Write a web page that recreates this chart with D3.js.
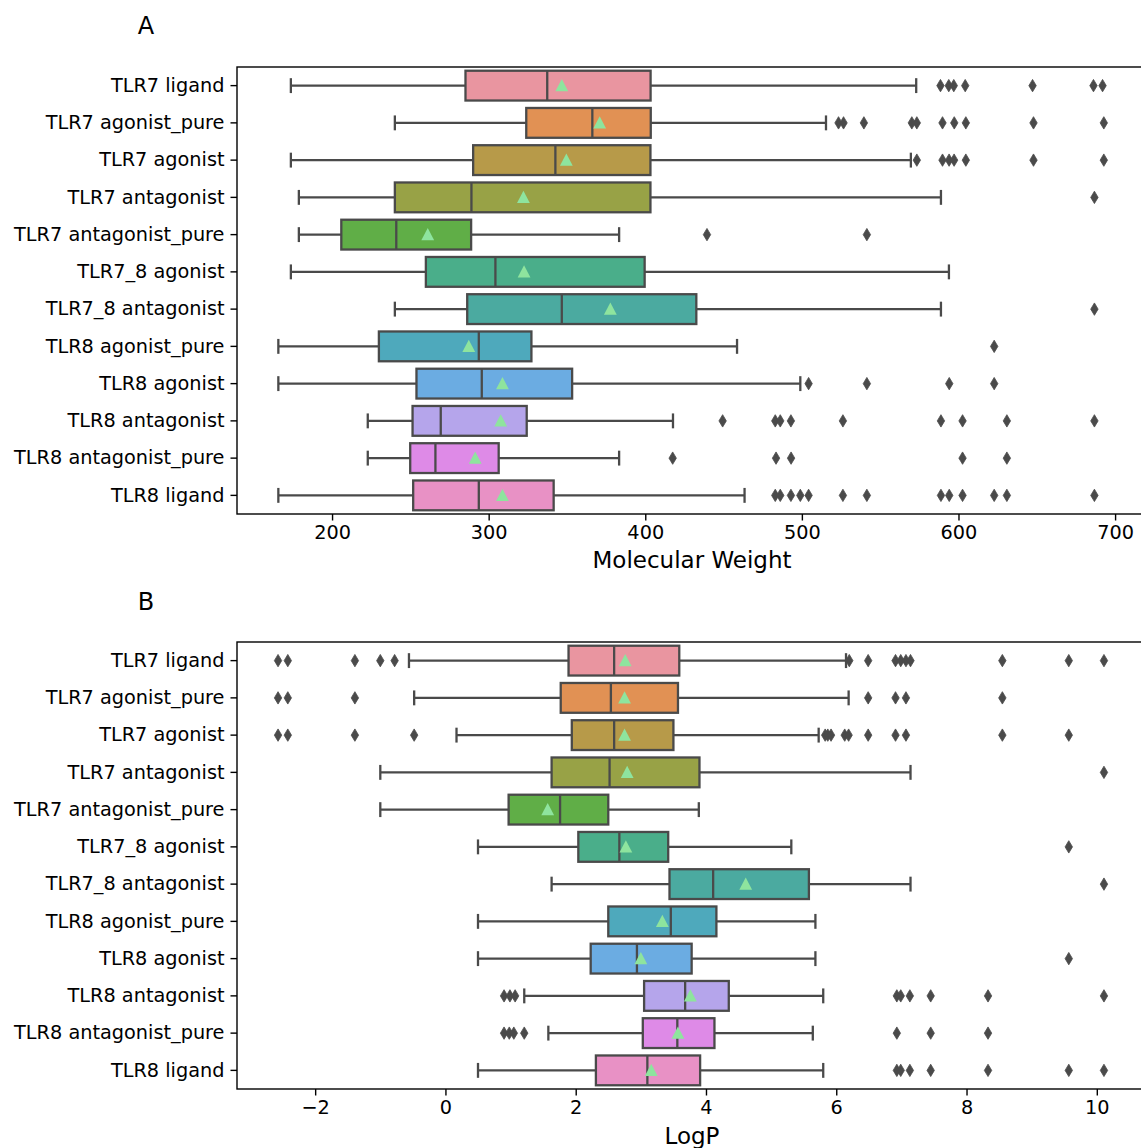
<!DOCTYPE html>
<html>
<head>
<meta charset="utf-8">
<script src="https://cdn.jsdelivr.net/npm/d3@7"></script>
<style>
  body { margin: 0; background: #fff; }
  svg text { font-family: "DejaVu Sans", sans-serif; fill: #000; }
</style>
</head>
<body>
<svg id="chart" width="1141" height="1148"></svg>
<script>
// Receptor ligand groups, top to bottom
const categories = [
  "TLR7 ligand", "TLR7 agonist_pure", "TLR7 agonist", "TLR7 antagonist",
  "TLR7 antagonist_pure", "TLR7_8 agonist", "TLR7_8 antagonist",
  "TLR8 agonist_pure", "TLR8 agonist", "TLR8 antagonist",
  "TLR8 antagonist_pure", "TLR8 ligand"
];

// Molecular weight summaries
const mwLow    = [173.7, 240.1, 173.7, 178.8, 178.8, 173.7, 240.1, 165.7, 165.7, 222.8, 222.8, 165.7];
const mwQ1     = [285.2, 324.0, 290.1, 240.1, 205.9, 259.9, 286.3, 229.9, 253.9, 251.4, 249.9, 251.8];
const mwMedian = [337.4, 366.2, 342.6, 289.0, 241.0, 304.3, 346.7, 293.7, 295.6, 269.4, 266.0, 293.7];
const mwQ3     = [403.4, 403.5, 403.3, 403.3, 288.8, 399.6, 432.6, 327.3, 353.3, 324.3, 306.4, 341.5];
const mwMean   = [346.7, 370.9, 349.6, 322.2, 261.1, 322.6, 377.7, 287.3, 308.8, 307.7, 291.4, 308.8];
const mwHigh   = [573.0, 515.4, 569.6, 588.8, 383.3, 593.9, 588.8, 458.6, 499.0, 417.7, 383.3, 463.4];
const mwOutliers = [
  [588.5, 593.8, 597.0, 604.3, 647.3, 686.2, 692.0],
  [523.4, 526.6, 539.6, 570.2, 573.4, 589.8, 597.3, 604.7, 647.9, 692.8],
  [573.4, 589.8, 594.0, 597.2, 604.7, 647.9, 692.8],
  [686.8],
  [439.4, 541.5],
  [],
  [686.8],
  [622.8],
  [504.3, 541.5, 594.1, 622.8],
  [449.4, 483.0, 486.2, 493.0, 526.2, 588.8, 602.6, 630.9, 686.8],
  [417.5, 483.5, 493.1, 602.6, 630.9],
  [483.0, 486.2, 493.0, 499.0, 504.3, 526.2, 541.5, 588.8, 594.1, 602.6, 622.8, 630.9, 686.8]
];
const mwTicks = [200, 300, 400, 500, 600, 700];

// LogP summaries
const lpLow    = [-0.56, -0.48, 0.17, -1.00, -1.00, 0.50, 1.63, 0.50, 0.50, 1.21, 1.58, 0.50];
const lpQ1     = [1.89, 1.77, 1.94, 1.63, 0.97, 2.04, 3.44, 2.50, 2.23, 3.05, 3.03, 2.31];
const lpMedian = [2.59, 2.54, 2.59, 2.52, 1.76, 2.67, 4.11, 3.46, 2.94, 3.68, 3.56, 3.10];
const lpQ3     = [3.59, 3.57, 3.50, 3.90, 2.50, 3.42, 5.58, 4.16, 3.78, 4.35, 4.13, 3.91];
const lpMean   = [2.76, 2.75, 2.75, 2.79, 1.57, 2.77, 4.61, 3.33, 3.00, 3.76, 3.57, 3.16];
const lpHigh   = [6.15, 6.19, 5.73, 7.14, 3.89, 5.31, 7.14, 5.68, 5.68, 5.80, 5.64, 5.80];
const lpOutliers = [
  [-2.57, -2.42, -1.39, -1.00, -0.78, 6.20, 6.49, 6.91, 6.99, 7.07, 7.14, 8.55, 9.57, 10.11],
  [-2.57, -2.42, -1.39, 6.49, 6.91, 7.07, 8.55],
  [-2.57, -2.42, -1.39, -0.48, 5.83, 5.87, 5.92, 6.13, 6.19, 6.49, 6.91, 7.07, 8.55, 9.57],
  [10.11],
  [],
  [9.57],
  [10.11],
  [],
  [9.57],
  [0.90, 0.99, 1.07, 6.93, 6.99, 7.13, 7.45, 8.33, 10.11],
  [0.90, 0.98, 1.05, 1.21, 6.93, 7.45, 8.33],
  [6.93, 6.99, 7.13, 7.45, 8.33, 9.57, 10.11]
];
const lpTicks = [-2, 0, 2, 4, 6, 8, 10];

// Box fill per group
const boxColors = [
  "#e995a0", "#e19154", "#b79a49", "#98a246", "#60ae47", "#4aae8a",
  "#4baaa0", "#4ea9bc", "#6bace2", "#b5a5eb", "#de8ae7", "#e891c5"
];
const lineGray = "#4a4a4a";
const meanGreen = "#8ee49e";

const svg = d3.select("#chart");
const left = 237, right = 1145;

function panel(opts) {
  const g = svg.append("g");
  const x = d3.scaleLinear().domain(opts.domain).range([left, right]);
  const y = d3.scaleBand().domain(categories)
    .range([opts.top, opts.bottom]).paddingInner(0.2).paddingOuter(0.1);
  const bw = y.bandwidth();
  const cy = c => y(c) + bw / 2;

  const rows = categories.map((c, i) => ({
    c, i, low: opts.low[i], q1: opts.q1[i], med: opts.median[i],
    q3: opts.q3[i], mean: opts.mean[i], high: opts.high[i], out: opts.outliers[i]
  }));

  const clip = "clip" + opts.id;
  svg.append("clipPath").attr("id", clip).append("rect")
    .attr("x", left).attr("y", opts.top).attr("width", right - left).attr("height", opts.bottom - opts.top);

  const plot = g.append("g").attr("clip-path", `url(#${clip})`);
  const row = plot.selectAll("g.row").data(rows).join("g").attr("class", "row");

  // whiskers
  row.append("line").attr("x1", d => x(d.low)).attr("x2", d => x(d.q1))
    .attr("y1", d => cy(d.c)).attr("y2", d => cy(d.c))
    .attr("stroke", lineGray).attr("stroke-width", 2.3);
  row.append("line").attr("x1", d => x(d.q3)).attr("x2", d => x(d.high))
    .attr("y1", d => cy(d.c)).attr("y2", d => cy(d.c))
    .attr("stroke", lineGray).attr("stroke-width", 2.3);
  // caps
  [d => d.low, d => d.high].forEach(f => {
    row.append("line").attr("x1", d => x(f(d))).attr("x2", d => x(f(d)))
      .attr("y1", d => cy(d.c) - bw / 4).attr("y2", d => cy(d.c) + bw / 4)
      .attr("stroke", lineGray).attr("stroke-width", 2.3);
  });
  // boxes
  row.append("rect").attr("x", d => x(d.q1)).attr("width", d => x(d.q3) - x(d.q1))
    .attr("y", d => y(d.c)).attr("height", bw)
    .attr("fill", d => boxColors[d.i]).attr("stroke", lineGray).attr("stroke-width", 2.3);
  // medians
  row.append("line").attr("x1", d => x(d.med)).attr("x2", d => x(d.med))
    .attr("y1", d => y(d.c)).attr("y2", d => y(d.c) + bw)
    .attr("stroke", lineGray).attr("stroke-width", 2.3);
  // outliers as thin diamonds
  row.selectAll("path.flier").data(d => d.out.map(v => ({ v, c: d.c }))).join("path")
    .attr("class", "flier")
    .attr("d", d => {
      const px = x(d.v), py = cy(d.c);
      return `M${px},${py - 6.2}L${px + 3.7},${py}L${px},${py + 6.2}L${px - 3.7},${py}Z`;
    })
    .attr("fill", lineGray).attr("stroke", lineGray).attr("stroke-width", 0.8);
  // means as triangles
  row.append("path")
    .attr("d", d => {
      const px = x(d.mean), py = cy(d.c);
      return `M${px},${py - 6.6}L${px + 6.4},${py + 5.6}L${px - 6.4},${py + 5.6}Z`;
    })
    .attr("fill", meanGreen);

  // spines
  g.append("rect").attr("x", left).attr("y", opts.top)
    .attr("width", right - left).attr("height", opts.bottom - opts.top)
    .attr("fill", "none").attr("stroke", "#000").attr("stroke-width", 1.4);

  // axes
  const yAxis = g.append("g").attr("transform", `translate(${left},0)`)
    .call(d3.axisLeft(y).tickSize(6.5).tickSizeOuter(0).tickPadding(6));
  const xAxis = g.append("g").attr("transform", `translate(0,${opts.bottom})`)
    .call(d3.axisBottom(x).tickValues(opts.ticks).tickSize(6.5).tickSizeOuter(0).tickPadding(5)
      .tickFormat(d3.format("d")));
  [yAxis, xAxis].forEach(a => {
    a.select(".domain").remove();
    a.selectAll(".tick line").attr("stroke", "#000").attr("stroke-width", 1.4);
    a.selectAll(".tick text").attr("font-size", 19.3).attr("font-family", "DejaVu Sans").attr("fill", "#000");
  });
  xAxis.selectAll(".tick text").text(d => d < 0 ? "\u2212" + Math.abs(d) : String(d));

  g.append("text").attr("x", (left + right) / 2 + 1).attr("y", opts.labelY)
    .attr("text-anchor", "middle").attr("font-size", 23).text(opts.label);
  g.append("text").attr("x", 146).attr("y", opts.titleY)
    .attr("text-anchor", "middle").attr("font-size", 24).text(opts.title);
}

panel({
  id: "A", title: "A", titleY: 34, top: 67, bottom: 514, domain: [139.3, 719.1],
  low: mwLow, q1: mwQ1, median: mwMedian, q3: mwQ3, mean: mwMean, high: mwHigh,
  outliers: mwOutliers, ticks: mwTicks, label: "Molecular Weight", labelY: 568
});
panel({
  id: "B", title: "B", titleY: 610, top: 642, bottom: 1089, domain: [-3.20, 10.74],
  low: lpLow, q1: lpQ1, median: lpMedian, q3: lpQ3, mean: lpMean, high: lpHigh,
  outliers: lpOutliers, ticks: lpTicks, label: "LogP", labelY: 1144
});
</script>
</body>
</html>
